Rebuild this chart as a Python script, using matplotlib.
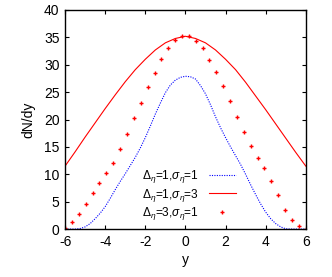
import matplotlib
matplotlib.use("Agg")
import matplotlib.pyplot as plt
import numpy as np

plt.rcParams["font.family"] = ["Liberation Sans", "DejaVu Sans"]
plt.rcParams["mathtext.fontset"] = "custom"
plt.rcParams["mathtext.rm"] = "Liberation Sans"
plt.rcParams["mathtext.it"] = "Liberation Sans:italic"
plt.rcParams["axes.unicode_minus"] = False

# blue dotted curve: Delta=1, sigma=1
y_blue = [-6.0, -5.75, -5.5, -5.25, -5.0, -4.75, -4.5, -4.25, -4.0, -3.75, -3.5, -3.25,
          -3.0, -2.75, -2.5, -2.25, -2.0, -1.75, -1.5, -1.25, -1.0, -0.75, -0.5, -0.25,
          0.0, 0.25, 0.5, 0.75, 1.0, 1.25, 1.5, 1.75, 2.0, 2.25, 2.5, 2.75,
          3.0, 3.25, 3.5, 3.75, 4.0, 4.25, 4.5, 4.75, 5.0, 5.25, 5.5, 5.75, 6.0]
dndy_blue = [0, 0, 0, 0.1, 0.4, 1.0, 1.9, 2.9, 4.1, 5.6, 7.2, 8.7,
             10.1, 11.6, 13.1, 14.8, 16.7, 18.8, 21.0, 23.0, 24.9, 26.3, 27.2, 27.7,
             27.9, 27.8, 27.4, 26.2, 24.7, 22.7, 20.5, 18.5, 16.7, 15.0, 13.4, 11.8,
             10.0, 8.1, 6.3, 4.6, 3.1, 1.9, 1.0, 0.4, 0.05, 0, 0, 0, 0]

# red solid curve: Delta=1, sigma=3
y_red = [-6.0, -5.5, -5.0, -4.5, -4.0, -3.5, -3.0, -2.5, -2.0, -1.5, -1.0, -0.5, 0.0,
         0.5, 1.0, 1.5, 2.0, 2.5, 3.0, 3.5, 4.0, 4.5, 5.0, 5.5, 6.0]
dndy_red = [11.5, 14.1, 16.8, 19.4, 22.0, 24.5, 26.9, 29.1, 31.0, 32.7, 34.0, 34.8, 35.2,
            34.8, 34.0, 32.7, 31.0, 29.1, 26.8, 24.3, 21.8, 19.2, 16.6, 14.0, 11.5]

# red crosses: Delta=3, sigma=1
y_pts = [-6.0, -5.66, -5.31, -4.97, -4.63, -4.29, -3.94, -3.60, -3.26, -2.91, -2.57, -2.23,
         -1.89, -1.54, -1.20, -0.86, -0.51, -0.17, 0.17, 0.51, 0.86, 1.20, 1.54, 1.89,
         2.23, 2.57, 2.91, 3.26, 3.60, 3.94, 4.29, 4.63, 4.97, 5.31, 5.66, 6.0]
dndy_pts = [0.2, 1.3, 2.7, 4.6, 6.6, 8.5, 10.2, 12.1, 14.6, 17.4, 20.2, 23.1,
            25.9, 28.5, 31.0, 33.0, 34.6, 35.3, 35.2, 34.4, 33.0, 30.9, 28.7, 26.1,
            23.3, 20.5, 17.7, 15.2, 13.0, 11.1, 8.8, 6.2, 3.5, 1.7, 0.55, 0.1]

labels = [r"$\Delta_\eta$=1,$\sigma_\eta$=1",
          r"$\Delta_\eta$=1,$\sigma_\eta$=3",
          r"$\Delta_\eta$=3,$\sigma_\eta$=1"]

fig = plt.figure(figsize=(3.32, 2.77), dpi=100)
ax = fig.add_axes([0.196, 0.173, 0.725, 0.791])

ax.plot(y_blue, dndy_blue, color="#0000ff", lw=0.8, ls=(0, (1, 1.2)), label=labels[0])
ax.plot(y_red, dndy_red, color="#ff0000", lw=0.8, label=labels[1])
ax.plot(y_pts, dndy_pts, ls="none", marker="+", color="#ff0000", ms=3.5, mew=1.0, label=labels[2])

ax.set_xlim(-6, 6)
ax.set_ylim(0, 40)
ax.set_xticks(np.arange(-6, 7, 2))
ax.set_yticks(np.arange(0, 41, 5))
ax.tick_params(direction="in", top=True, right=True, length=3, width=0.8, labelsize=10, pad=4)
for s in ax.spines.values():
    s.set_linewidth(1.0)

ax.set_xlabel("y", fontsize=10, labelpad=3)
ax.set_ylabel("dN/dy", fontsize=10, labelpad=6)

ax.legend(loc="lower right", bbox_to_anchor=(0.745, -0.005), frameon=False, markerfirst=False,
          fontsize=8.6, handlelength=2.3, labelspacing=0.1, handletextpad=0.8, borderpad=0.2)

fig.savefig("out.png", dpi=100)
